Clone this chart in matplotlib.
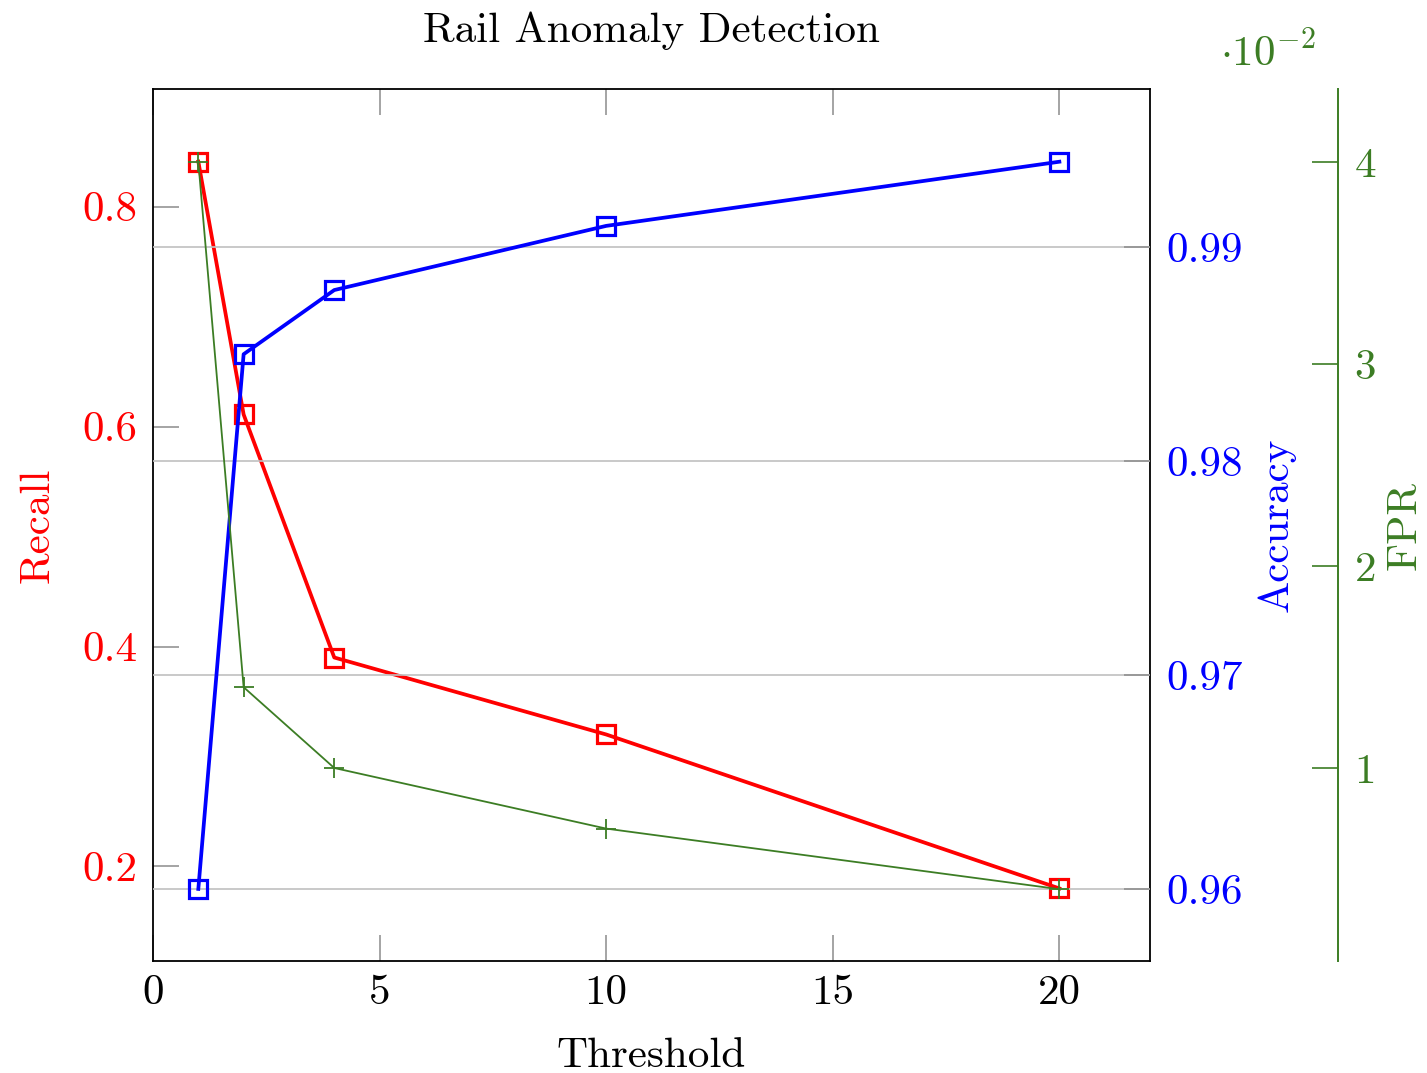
import matplotlib
matplotlib.use('Agg')
import matplotlib.pyplot as plt
from matplotlib.ticker import FixedLocator, FuncFormatter

plt.rcParams['font.family'] = 'cmr10'
plt.rcParams['mathtext.fontset'] = 'cm'
plt.rcParams['axes.unicode_minus'] = False
plt.rcParams['axes.formatter.use_mathtext'] = True

# Data
thresholds = [1, 2, 4, 10, 20]
recall = [0.841, 0.611, 0.390, 0.320, 0.180]
accuracy = [0.9600, 0.9850, 0.9880, 0.9910, 0.9940]
fpr = [0.0400, 0.0140, 0.0100, 0.0070, 0.0040]

x_ticks = [0, 5, 10, 15, 20]
recall_ticks = [0.2, 0.4, 0.6, 0.8]
acc_ticks = [0.96, 0.97, 0.98, 0.99]
fpr_ticks = [0.01, 0.02, 0.03, 0.04]

RED = '#ff0000'
BLUE = '#0000ff'
GREEN = '#3c7d24'
TICK_GRAY = '#8c8c8c'
FS = 31

fig = plt.figure(figsize=(14.27, 10.73), dpi=100)
ax = fig.add_axes([153 / 1427, 1 - 961 / 1073, 997 / 1427, 872 / 1073])

# Recall (left axis)
ax.plot(thresholds, recall, color=RED, lw=2.7, marker='s', ms=13,
        mfc='none', mec=RED, mew=2.3, zorder=3)
ax.set_xlim(0, 22)
ax.set_ylim(0.114, 0.907)
ax.xaxis.set_major_locator(FixedLocator(x_ticks))
ax.yaxis.set_major_locator(FixedLocator(recall_ticks))
ax.xaxis.set_major_formatter(FuncFormatter(lambda v, p: f'{v:g}'))
ax.yaxis.set_major_formatter(FuncFormatter(lambda v, p: f'{v:g}'))
ax.tick_params(axis='x', direction='in', length=19, width=1.1,
               color=TICK_GRAY, top=True, labelsize=FS, pad=10)
ax.tick_params(axis='y', direction='in', length=19, width=1.1,
               color=TICK_GRAY, right=True, labelsize=FS,
               labelcolor=RED, pad=11)
for s in ax.spines.values():
    s.set_linewidth(1.3)
ax.set_xlabel('Threshold', fontsize=FS, labelpad=18)
ax.set_ylabel('Recall', fontsize=FS, color=RED, labelpad=19)
ax.set_title('Rail Anomaly Detection', fontsize=FS, pad=34)

# Accuracy (right axis, with grid)
ax2 = ax.twinx()
ax2.plot(thresholds, accuracy, color=BLUE, lw=2.7, marker='s', ms=13,
         mfc='none', mec=BLUE, mew=2.3, zorder=3)
ax2.set_ylim(0.95663, 0.9974)
ax2.yaxis.set_major_locator(FixedLocator(acc_ticks))
ax2.yaxis.set_major_formatter(FuncFormatter(lambda v, p: f'{v:g}'))
ax2.tick_params(axis='y', direction='in', length=19, width=1.1,
                color=TICK_GRAY, labelsize=FS, labelcolor=BLUE, pad=12)
ax2.grid(axis='y', color='#c0c0c0', lw=1.2, zorder=0)
ax2.set_ylabel('Accuracy', fontsize=FS, color=BLUE, labelpad=10)
for s in ax2.spines.values():
    s.set_visible(False)

# FPR (outer right axis)
ax3 = ax.twinx()
ax3.plot(thresholds, fpr, color=GREEN, lw=1.3, marker='+', ms=14,
         mew=1.3, zorder=4)
ax3.set_ylim(0.000446, 0.04361)
ax3.spines['right'].set_position(('axes', 1.1886))
ax3.spines['right'].set_color(GREEN)
ax3.spines['right'].set_linewidth(1.4)
for side in ['left', 'top', 'bottom']:
    ax3.spines[side].set_visible(False)
ax3.yaxis.set_major_locator(FixedLocator(fpr_ticks))
ax3.yaxis.set_major_formatter(FuncFormatter(lambda v, p: f'{v * 100:g}'))
ax3.tick_params(axis='y', direction='in', length=19, width=1.2,
                color=GREEN, labelsize=FS, labelcolor=GREEN, pad=12)
ax3.set_ylabel('FPR', fontsize=FS, color=GREEN, labelpad=7)
ax3.text(1.07, 1.018, r'$\cdot 10^{-2}$', transform=ax3.transAxes,
         fontsize=FS, color=GREEN, ha='left', va='bottom')

fig.savefig('out.png', dpi=100)
